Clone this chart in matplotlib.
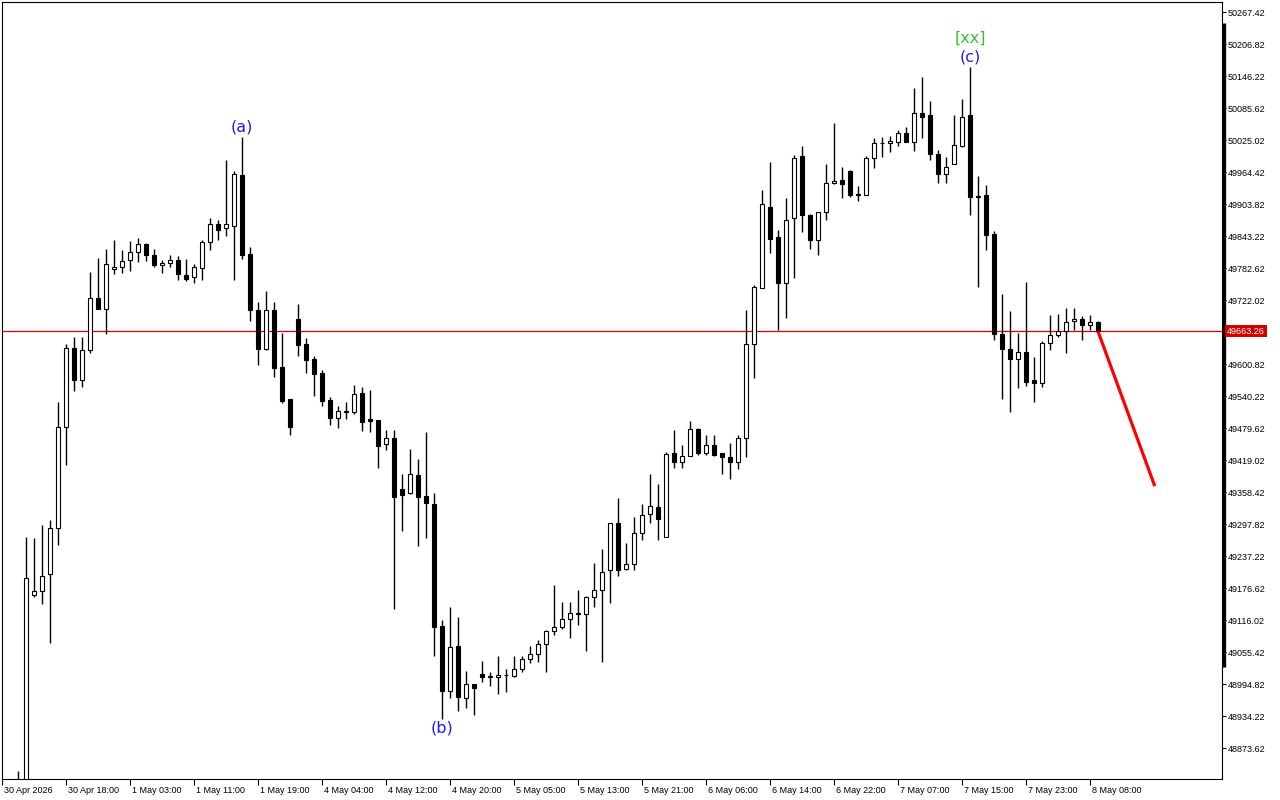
import matplotlib
matplotlib.use('Agg')
from matplotlib import pyplot as plt
import matplotlib.transforms as mtrans

# hourly candles, index 0 = 30 Apr 12:00
opens = [48805, 48790, 49163, 49172, 49204, 49291, 49482, 49632, 49572, 49628,
         49726, 49705, 49781, 49786, 49799, 49813, 49829, 49807, 49788, 49792,
         49798, 49769, 49767, 49784, 49832, 49866, 49858, 49863, 49959, 49810,
         49704, 49630, 49704, 49596, 49535, 49687, 49639, 49611, 49584, 49533,
         49500, 49511, 49511, 49546, 49498, 49495, 49449, 49462, 49365, 49358,
         49392, 49351, 49336, 49105, 48983, 49067, 48968, 48995, 49014, 49009,
         49008, 49012, 49011, 49023, 49042, 49052, 49072, 49095, 49103, 49118,
         49129, 49128, 49160, 49173, 49212, 49300, 49214, 49223, 49281, 49317,
         49330, 49273, 49432, 49415, 49428, 49478, 49432, 49448, 49433, 49425,
         49415, 49462, 49640, 49745, 49898, 49841, 49754, 49877, 49995, 49883,
         49837, 49889, 49944, 49949, 49966, 49922, 49921, 49991, 50019, 50019,
         50021, 50038, 50021, 50076, 50072, 50000, 49961, 49981, 50015, 50072,
         49920, 49921, 49847, 49659, 49629, 49610, 49624, 49571, 49565, 49641,
         49656, 49664, 49682, 49686, 49676, 49680]
highs = [48830, 49274, 49271, 49297, 49306, 49530, 49640, 49653, 49653, 49776,
         49802, 49819, 49837, 49817, 49834, 49840, 49830, 49819, 49799, 49807,
         49806, 49801, 49790, 49836, 49878, 49874, 49988, 49967, 50032, 49822,
         49718, 49740, 49718, 49661, 49535, 49715, 49650, 49617, 49590, 49538,
         49521, 49530, 49561, 49558, 49552, 49496, 49476, 49476, 49394, 49440,
         49421, 49473, 49358, 49117, 49141, 49122, 49020, 48996, 49039, 49019,
         49049, 49024, 49049, 49049, 49067, 49079, 49098, 49183, 49151, 49151,
         49173, 49162, 49224, 49251, 49300, 49347, 49262, 49312, 49336, 49393,
         49374, 49435, 49476, 49448, 49493, 49481, 49467, 49467, 49433, 49452,
         49467, 49704, 49751, 49931, 49984, 49855, 49916, 49998, 50014, 49885,
         49890, 49980, 50058, 49974, 49969, 49938, 49995, 50029, 50031, 50033,
         50044, 50051, 50124, 50145, 50099, 50007, 49994, 50072, 50103, 50164,
         49957, 49940, 49853, 49734, 49702, 49661, 49757, 49615, 49644, 49694,
         49697, 49707, 49707, 49692, 49694, 49683]
lows = [48760, 48760, 49160, 49147, 49073, 49258, 49410, 49551, 49557, 49623,
        49705, 49659, 49771, 49773, 49777, 49795, 49797, 49785, 49773, 49786,
        49760, 49759, 49754, 49760, 49818, 49837, 49844, 49760, 49800, 49682,
        49600, 49628, 49576, 49528, 49467, 49617, 49585, 49540, 49521, 49486,
        49481, 49498, 49507, 49475, 49473, 49405, 49438, 49137, 49286, 49356,
        49257, 49271, 49049, 48930, 48968, 48945, 48950, 48937, 49000, 48992,
        48976, 48981, 49009, 49019, 49036, 49038, 49019, 49088, 49100, 49083,
        49108, 49058, 49142, 49038, 49149, 49200, 49211, 49212, 49269, 49301,
        49269, 49273, 49405, 49405, 49428, 49429, 49430, 49428, 49394, 49383,
        49402, 49426, 49574, 49745, 49812, 49665, 49689, 49765, 49852, 49820,
        49808, 49875, 49943, 49916, 49918, 49911, 49921, 49973, 49994, 50003,
        50015, 50021, 50005, 50030, 49988, 49945, 49945, 49981, 50013, 49884,
        49748, 49817, 49647, 49536, 49511, 49556, 49560, 49530, 49558, 49627,
        49652, 49623, 49666, 49646, 49666, 49661]
closes = [48790, 49196, 49172, 49200, 49290, 49482, 49632, 49572, 49628, 49726,
          49705, 49790, 49786, 49796, 49813, 49828, 49807, 49788, 49793, 49798,
          49771, 49763, 49786, 49832, 49866, 49856, 49866, 49961, 49808, 49704,
          49630, 49704, 49594, 49531, 49483, 49637, 49609, 49582, 49532, 49500,
          49512, 49512, 49544, 49492, 49494, 49447, 49462, 49350, 49354, 49394,
          49350, 49338, 49104, 48983, 49065, 48970, 48995, 48987, 49008, 49010,
          49012, 49013, 49023, 49042, 49052, 49072, 49095, 49103, 49118, 49129,
          49128, 49160, 49173, 49207, 49300, 49212, 49222, 49281, 49315, 49332,
          49307, 49431, 49415, 49428, 49478, 49432, 49448, 49430, 49426, 49415,
          49462, 49640, 49747, 49904, 49839, 49755, 49875, 49991, 49883, 49837,
          49889, 49944, 49947, 49943, 49922, 49923, 49991, 50019, 50020, 50024,
          50038, 50021, 50076, 50070, 50000, 49962, 49974, 50016, 50070, 49918,
          49918, 49846, 49659, 49629, 49610, 49625, 49568, 49565, 49641, 49656,
          49664, 49680, 49686, 49675, 49680, 49663.26]

last_price = 49663.26

# price scale labels (right side)
price_ticks = [50267.42, 50206.82, 50146.22, 50085.62, 50025.02, 49964.42, 49903.82,
               49843.22, 49782.62, 49722.02, 49600.82, 49540.22, 49479.62, 49419.02,
               49358.42, 49297.82, 49237.22, 49176.62, 49116.02, 49055.42, 48994.82,
               48934.22, 48873.62]

# time labels
time_idx = [6, 14, 22, 30, 38, 46, 54, 62, 70, 78, 86, 94, 102, 110, 118, 126, 134]
time_labels = ['30 Apr 18:00', '1 May 03:00', '1 May 11:00', '1 May 19:00', '4 May 04:00',
               '4 May 12:00', '4 May 20:00', '5 May 05:00', '5 May 13:00', '5 May 21:00',
               '6 May 06:00', '6 May 14:00', '6 May 22:00', '7 May 07:00', '7 May 15:00',
               '7 May 23:00', '8 May 08:00']

# wave marks: (text, bar index, anchored at high/low, colour)
waves = [('(a)', 28, 'high', '#1a1aff'), ('(b)', 53, 'low', '#1a1aff'),
         ('(c)', 119, 'high', '#1a1aff')]

# forecast line
proj_x = [135, 142.1]
proj_y = [49663.26, 49370]

plt.rcParams['font.family'] = ['Liberation Sans', 'DejaVu Sans']

fig = plt.figure(figsize=(12.8, 8), dpi=100)
ax = fig.add_axes([2 / 1280, 21 / 800, 1220 / 1280, 777 / 800])
ax.set_xlim(-2.0, 150.5)
ax.set_ylim(48815.5, 50286.9)

# candles
n = len(opens)
xs = list(range(n))
ax.vlines(xs, lows, highs, color='black', linewidth=1.0, zorder=2)
for i in range(n):
    o, c = opens[i], closes[i]
    bottom = min(o, c)
    h = max(abs(c - o), 0.6)
    fc = 'white' if c >= o else 'black'
    ax.bar(i, h, bottom=bottom, width=0.56, color=fc, edgecolor='black',
           linewidth=0.8, zorder=3)

# current price line + projection
ax.axhline(last_price, color='#e00000', linewidth=0.9, zorder=1)
ax.plot(proj_x, proj_y, color='#ff0000', linewidth=2.3, zorder=4, solid_capstyle='butt')

# wave labels
for txt, i, where, col in waves:
    if where == 'high':
        ax.annotate(txt, (i, highs[i]), xytext=(0, 2), textcoords='offset pixels',
                    ha='center', va='bottom', color=col, fontsize=11.5,
                    family='DejaVu Sans')
    else:
        ax.annotate(txt, (i, lows[i]), xytext=(0, -2), textcoords='offset pixels',
                    ha='center', va='top', color=col, fontsize=11.5,
                    family='DejaVu Sans')
ax.annotate('[xx]', (119, highs[119]), xytext=(0, 21), textcoords='offset pixels',
            ha='center', va='bottom', color='#33c433', fontsize=11.5, family='DejaVu Sans')

# axes look
for s in ax.spines.values():
    s.set_linewidth(0.8)
    s.set_color('black')

ax.yaxis.tick_right()
ax.set_yticks(price_ticks)
ax.set_yticklabels(['%.2f' % v for v in price_ticks])
ax.tick_params(axis='y', direction='out', length=3, width=0.8, pad=1, labelsize=6.5)

ax.set_xticks([-2.0] + time_idx)
ax.set_xticklabels(['30 Apr 2026'] + time_labels)
ax.tick_params(axis='x', direction='out', length=4, width=0.8, pad=1, labelsize=6.5)
off = mtrans.ScaledTranslation(2 / 100, 0, fig.dpi_scale_trans)
for lab in ax.get_xticklabels():
    lab.set_ha('left')
    lab.set_transform(lab.get_transform() + off)

# thick bar on the price scale
ax.plot([1.0015, 1.0015], [0.144, 0.973], transform=ax.transAxes, color='black',
        linewidth=2.4, clip_on=False, solid_capstyle='butt')

# last price tag
ax.annotate('%.2f' % last_price, (1.0, last_price),
            xycoords=ax.get_yaxis_transform(), xytext=(5, 0), textcoords='offset pixels',
            ha='left', va='center', color='white', fontsize=6.5,
            bbox=dict(boxstyle='square,pad=0.18', fc='#d40000', ec='none'))

fig.savefig('out.png', dpi=100)
